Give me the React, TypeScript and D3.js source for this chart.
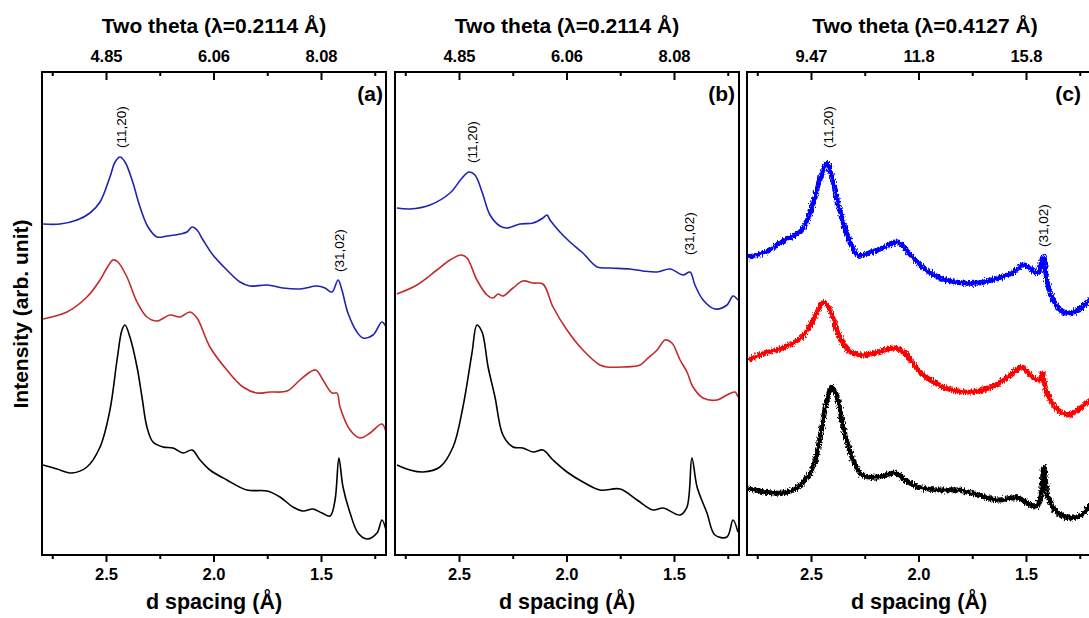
import React from "react";
import * as d3 from "d3";

// ---- tick definitions ----
const majorTicks = [2.5, 2.0, 1.5];
const minorTicks = [2.75, 2.25, 1.75, 1.25];
const bottomTickLabels = ["2.5", "2.0", "1.5"];
const topLabelsA = ["4.85", "6.06", "8.08"];
const topLabelsB = ["4.85", "6.06", "8.08"];
const topLabelsC = ["9.47", "11.8", "15.8"];

// ---- data: [d spacing (Å), intensity (arb.)] ----
const aBlue: [number, number][] = [
  [2.795, 33.0], [2.716, 33.0], [2.637, 33.4], [2.577, 34.1], [2.53, 35.2], [2.484, 37.7],
  [2.46, 39.2], [2.437, 39.7], [2.414, 39.2], [2.381, 37.4], [2.344, 34.7], [2.307, 32.7],
  [2.265, 31.7], [2.219, 31.8], [2.158, 32.0], [2.126, 32.2], [2.102, 32.7], [2.079, 32.4],
  [2.051, 31.4], [2.005, 29.9], [1.94, 28.4], [1.879, 27.2], [1.833, 26.8], [1.753, 26.9],
  [1.679, 26.6], [1.6, 26.5], [1.521, 26.8], [1.484, 26.6], [1.451, 26.2], [1.423, 27.4],
  [1.405, 26.4], [1.377, 24.1], [1.335, 22.2], [1.307, 21.6], [1.26, 21.9], [1.219, 23.2],
  [1.2, 22.7],
];
const aRed: [number, number][] = [
  [2.795, 23.5], [2.684, 24.2], [2.591, 25.7], [2.53, 27.4], [2.498, 28.6], [2.47, 29.4],
  [2.447, 29.2], [2.405, 27.7], [2.358, 25.2], [2.312, 23.7], [2.265, 23.3], [2.205, 23.9],
  [2.158, 23.7], [2.112, 24.2], [2.079, 23.6], [2.019, 20.7], [1.94, 18.4], [1.865, 16.7],
  [1.8, 16.1], [1.74, 16.2], [1.66, 16.3], [1.6, 17.4], [1.553, 18.2], [1.526, 18.4],
  [1.493, 17.4], [1.451, 16.1], [1.428, 16.1], [1.414, 14.7], [1.367, 12.4], [1.321, 11.6],
  [1.274, 12.1], [1.219, 13.0], [1.2, 12.2],
];
const aBlack: [number, number][] = [
  [2.795, 8.9], [2.73, 8.5], [2.66, 8.1], [2.591, 8.7], [2.53, 10.7], [2.484, 14.4],
  [2.451, 19.4], [2.428, 22.4], [2.414, 22.9], [2.391, 21.7], [2.358, 18.7], [2.335, 15.7],
  [2.312, 12.7], [2.284, 11.2], [2.237, 10.7], [2.191, 10.6], [2.144, 10.1], [2.102, 10.4],
  [2.065, 9.4], [2.019, 8.4], [1.94, 7.4], [1.847, 6.4], [1.753, 6.3], [1.693, 5.7],
  [1.633, 4.7], [1.586, 4.3], [1.54, 4.5], [1.498, 4.1], [1.46, 3.8], [1.437, 5.4],
  [1.419, 9.6], [1.4, 6.7], [1.367, 4.1], [1.33, 2.1], [1.288, 1.5], [1.242, 2.1],
  [1.219, 3.4], [1.2, 2.4],
];
const bBlue: [number, number][] = [
  [2.791, 34.6], [2.73, 34.5], [2.637, 34.9], [2.544, 36.1], [2.488, 37.6], [2.456, 38.2],
  [2.428, 37.9], [2.395, 36.2], [2.358, 33.9], [2.312, 32.8], [2.279, 32.6], [2.219, 33.0],
  [2.158, 33.1], [2.112, 33.6], [2.093, 33.9], [2.079, 33.4], [2.033, 32.2], [1.986, 31.2],
  [1.926, 30.1], [1.86, 28.7], [1.8, 28.6], [1.707, 28.5], [1.647, 28.3], [1.581, 28.2],
  [1.521, 28.5], [1.46, 27.9], [1.428, 28.2], [1.405, 26.9], [1.367, 25.4], [1.312, 24.5],
  [1.256, 24.9], [1.228, 25.8], [1.205, 25.4],
];
const bRed: [number, number][] = [
  [2.791, 26.0], [2.698, 26.9], [2.605, 28.4], [2.544, 29.4], [2.493, 29.9], [2.465, 29.6],
  [2.419, 27.4], [2.372, 25.9], [2.344, 25.6], [2.321, 26.0], [2.298, 25.8], [2.251, 26.6],
  [2.205, 27.3], [2.158, 27.1], [2.112, 27.0], [2.065, 24.7], [2.0, 22.4], [1.926, 20.4],
  [1.847, 18.9], [1.814, 18.7], [1.74, 18.7], [1.66, 18.9], [1.628, 19.5], [1.581, 20.4],
  [1.544, 21.4], [1.512, 21.1], [1.474, 19.4], [1.442, 18.2], [1.414, 16.7], [1.367, 15.6],
  [1.302, 15.4], [1.256, 15.9], [1.219, 16.2], [1.205, 15.7],
];
const bBlack: [number, number][] = [
  [2.791, 8.9], [2.73, 8.4], [2.67, 8.2], [2.591, 8.7], [2.53, 10.7], [2.484, 14.7],
  [2.442, 20.1], [2.419, 22.9], [2.395, 22.2], [2.367, 18.7], [2.335, 15.7], [2.298, 11.9],
  [2.251, 10.7], [2.205, 10.6], [2.158, 10.2], [2.112, 10.4], [2.065, 9.4], [2.0, 8.2],
  [1.926, 7.2], [1.847, 6.4], [1.753, 6.5], [1.674, 5.4], [1.6, 4.4], [1.553, 4.6],
  [1.474, 3.9], [1.442, 4.7], [1.419, 9.6], [1.395, 6.7], [1.349, 4.1], [1.312, 1.9],
  [1.256, 1.7], [1.228, 3.4], [1.205, 2.2],
];
const cBlue: [number, number][] = [
  [2.795, 29.7], [2.716, 30.2], [2.623, 31.4], [2.544, 32.4], [2.498, 34.7], [2.451, 38.1],
  [2.428, 39.1], [2.405, 37.7], [2.377, 35.1], [2.33, 31.7], [2.284, 29.9], [2.219, 30.2],
  [2.158, 30.7], [2.098, 31.2], [2.051, 30.2], [1.986, 28.7], [1.912, 27.7], [1.833, 27.2],
  [1.726, 27.1], [1.633, 27.6], [1.567, 28.1], [1.516, 28.9], [1.474, 28.4], [1.447, 28.1],
  [1.423, 29.7], [1.405, 27.4], [1.377, 25.4], [1.321, 24.1], [1.26, 24.4], [1.214, 25.2],
  [1.2, 25.4],
];
const cRed: [number, number][] = [
  [2.795, 19.4], [2.716, 20.1], [2.623, 20.7], [2.544, 21.7], [2.484, 23.7], [2.447, 25.2],
  [2.414, 24.4], [2.377, 22.1], [2.33, 20.4], [2.265, 19.9], [2.191, 20.2], [2.112, 20.6],
  [2.065, 20.1], [2.005, 18.4], [1.926, 17.1], [1.847, 16.4], [1.753, 16.2], [1.66, 16.7],
  [1.586, 17.7], [1.521, 18.7], [1.474, 17.7], [1.437, 17.4], [1.428, 18.1], [1.405, 16.1],
  [1.367, 14.7], [1.312, 13.9], [1.26, 14.4], [1.214, 15.2], [1.2, 15.4],
];
const cBlack: [number, number][] = [
  [2.795, 6.6], [2.716, 6.2], [2.637, 6.1], [2.563, 6.7], [2.498, 8.4], [2.46, 11.7],
  [2.428, 15.4], [2.405, 16.7], [2.381, 15.7], [2.353, 12.7], [2.312, 9.7], [2.265, 7.9],
  [2.191, 7.7], [2.112, 8.1], [2.065, 7.4], [2.005, 6.7], [1.912, 6.4], [1.819, 6.4],
  [1.726, 5.9], [1.633, 5.4], [1.54, 5.6], [1.46, 4.7], [1.437, 5.4], [1.419, 8.7],
  [1.4, 5.7], [1.353, 4.1], [1.288, 3.6], [1.228, 4.2], [1.214, 4.7], [1.2, 4.9],
];

const dDomain: [number, number] = [2.8, 1.2];
const iDomain: [number, number] = [0, 48.2];

type Series = { data: [number, number][]; color: string; width: number };
type Panel = {
  left: number; tag: string; lambda: string; topLabels: string[]; noisy: boolean;
  series: Series[]; peak1: [number, number]; peak2: [number, number]; tagX: number; titleX?: number;
};

const FONT = "Liberation Sans, Arial, Helvetica, sans-serif";
const TOP = 72;
const BOTTOM = 555;
const WIDTH = 344;

const panels: Panel[] = [
  {
    left: 42, tag: "(a)", lambda: "0.2114", topLabels: topLabelsA, tagX: 383, noisy: false,
    series: [
      { data: aBlue, color: "#1f23b4", width: 1.6 },
      { data: aRed, color: "#c42a2a", width: 1.6 },
      { data: aBlack, color: "#000000", width: 1.6 },
    ],
    peak1: [2.43, 40.6], peak2: [1.418, 28.2],
  },
  {
    left: 395, tag: "(b)", lambda: "0.2114", topLabels: topLabelsB, tagX: 735, noisy: false,
    series: [
      { data: bBlue, color: "#1f23b4", width: 1.6 },
      { data: bRed, color: "#c42a2a", width: 1.6 },
      { data: bBlack, color: "#000000", width: 1.6 },
    ],
    peak1: [2.44, 39.1], peak2: [1.428, 29.9],
  },
  {
    left: 747, tag: "(c)", lambda: "0.4127", topLabels: topLabelsC, tagX: 1081, titleX: 925, noisy: true,
    series: [
      { data: cBlue, color: "#0000ff", width: 5 },
      { data: cRed, color: "#ff0000", width: 5 },
      { data: cBlack, color: "#000000", width: 5 },
    ],
    peak1: [2.42, 40.6], peak2: [1.42, 30.7],
  },
];

function PanelView({ p, idx }: { p: Panel; idx: number }) {
  const x = d3.scaleLinear().domain(dDomain).range([p.left, p.left + WIDTH]);
  const y = d3.scaleLinear().domain(iDomain).range([BOTTOM - 1, TOP]);
  const line = d3
    .line<[number, number]>()
    .x((d) => x(d[0]))
    .y((d) => y(d[1]))
    .curve(d3.curveCatmullRom.alpha(0.5));
  const cx = p.left + WIDTH / 2;
  const clipId = `clip${idx}`;
  return (
    <g>
      <defs>
        <clipPath id={clipId}>
          <rect x={p.left} y={TOP} width={WIDTH} height={BOTTOM - TOP} />
        </clipPath>
      </defs>
      <g clipPath={`url(#${clipId})`}>
        <g filter={p.noisy ? "url(#grain)" : undefined}>
          {p.series.map((s, i) => (
            <path key={i} d={line(s.data) || ""} fill="none" stroke={s.color}
              strokeWidth={s.width} strokeLinejoin="round" />
          ))}
        </g>
      </g>
      {/* frame */}
      <rect x={p.left} y={TOP} width={WIDTH} height={BOTTOM - TOP} fill="none" stroke="#000" strokeWidth={2} />
      {/* top ticks (inward) */}
      {majorTicks.map((t, i) => (
        <g key={"tm" + i}>
          <line x1={x(t)} x2={x(t)} y1={TOP} y2={TOP + 8} stroke="#000" strokeWidth={2} />
          <text x={x(t)} y={62} textAnchor="middle" fontFamily={FONT} fontWeight="bold" fontSize={16.5}>
            {p.topLabels[i]}
          </text>
        </g>
      ))}
      {minorTicks.map((t, i) => (
        <line key={"tn" + i} x1={x(t)} x2={x(t)} y1={TOP} y2={TOP + 4} stroke="#000" strokeWidth={2} />
      ))}
      {/* bottom ticks (outward) */}
      {majorTicks.map((t, i) => (
        <g key={"bm" + i}>
          <line x1={x(t)} x2={x(t)} y1={BOTTOM} y2={BOTTOM + 7} stroke="#000" strokeWidth={2} />
          <text x={x(t)} y={580} textAnchor="middle" fontFamily={FONT} fontWeight="bold" fontSize={16.5}>
            {bottomTickLabels[i]}
          </text>
        </g>
      ))}
      {minorTicks.map((t, i) => (
        <line key={"bn" + i} x1={x(t)} x2={x(t)} y1={BOTTOM} y2={BOTTOM + 4} stroke="#000" strokeWidth={2} />
      ))}
      {/* titles */}
      <text x={p.titleX ?? cx} y={33} textAnchor="middle" fontFamily={FONT} fontWeight="bold" fontSize={21}>
        Two theta (λ={p.lambda} Å)
      </text>
      <text x={cx} y={609} textAnchor="middle" fontFamily={FONT} fontWeight="bold" fontSize={21.5}>
        d spacing (Å)
      </text>
      <text x={p.tagX} y={101} textAnchor="end" fontFamily={FONT} fontWeight="bold" fontSize={21}>
        {p.tag}
      </text>
      {/* peak labels */}
      <text transform={`translate(${x(p.peak1[0]) + 4.5},${y(p.peak1[1])}) rotate(-90)`}
        fontFamily={FONT} fontSize={13.5}>(11,20)</text>
      <text transform={`translate(${x(p.peak2[0]) + 4.5},${y(p.peak2[1])}) rotate(-90)`}
        fontFamily={FONT} fontSize={13.5}>(31,02)</text>
    </g>
  );
}

export default function App() {
  return (
    <svg width={1089} height={618} style={{ position: "absolute", left: 0, top: 0, background: "#fff" }}>
      <defs>
        <filter id="grain" x="-5%" y="-20%" width="110%" height="140%">
          <feTurbulence type="fractalNoise" baseFrequency="0.9 0.35" numOctaves={2} seed={3} result="noise" />
          <feDisplacementMap in="SourceGraphic" in2="noise" scale={6} xChannelSelector="R" yChannelSelector="G" />
        </filter>
      </defs>
      <rect x={0} y={0} width={1089} height={618} fill="#fff" />
      {panels.map((p, i) => (
        <PanelView key={i} p={p} idx={i} />
      ))}
      <text transform="translate(28,314) rotate(-90)" textAnchor="middle" fontFamily={FONT}
        fontWeight="bold" fontSize={21}>
        Intensity (arb. unit)
      </text>
    </svg>
  );
}
